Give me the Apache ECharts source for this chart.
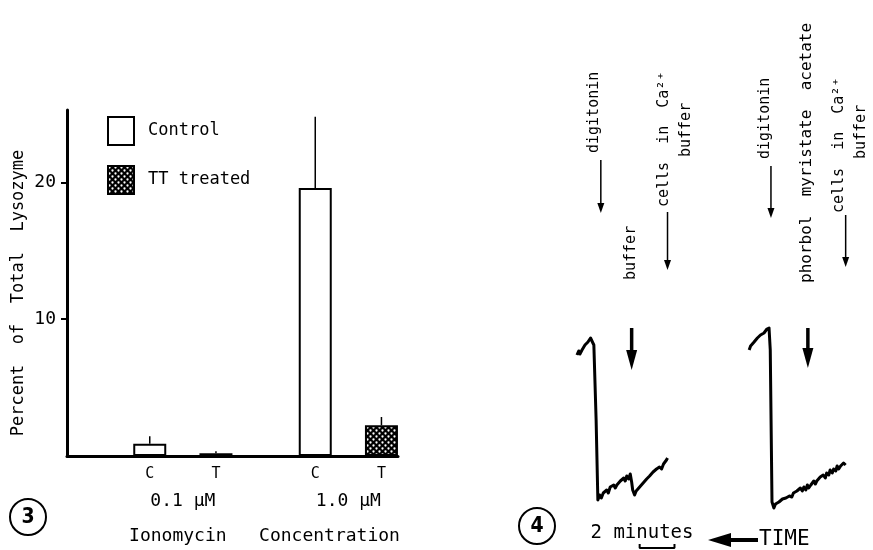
<!DOCTYPE html>
<html>
<head>
<meta charset="utf-8">
<script src="https://cdn.jsdelivr.net/npm/echarts@6/dist/echarts.min.js"></script>
<style>
html, body { margin: 0; padding: 0; background: #fff; }
#chart { width: 873px; height: 550px; }
</style>
</head>
<body>
<div id="chart"></div>
<script>
var mono = 'DejaVu Sans Mono';

// figure 3 : lysozyme release
var ctrlPos = [1.25, 3.75];
var ttPos = [2.25, 4.75];
var ctrlMean = [0.9, 19.6];
var ctrlErr = [0.55, 5.2];
var ttMean = [0.2, 2.25];
var ttErr = [0.15, 0.6];
var groupPos = [1.75, 4.25];
var groupLabels = ['0.1 μM', '1.0 μM'];
var yTicks = [10, 20];

// figure 4 : traces (x in minutes, y in arbitrary units)
var trace1 = [
	[0.40, 82.5], [0.50, 84.5], [0.57, 83], [0.69, 85], [0.77, 84], [0.86, 87.5], [0.94, 86.5],
	[1.03, 89], [1.10, 88], [1.18, 91], [1.26, 92], [1.37, 87.5], [1.50, 50], [1.60, 10],
	[1.70, 12.5], [1.80, 11], [1.91, 13.5], [2.00, 12.5], [2.11, 15], [2.20, 13.5], [2.31, 16.5],
	[2.40, 15.5], [2.51, 17.5], [2.60, 16], [2.69, 17.5], [2.80, 17], [2.89, 19.5], [2.97, 18.5],
	[3.09, 21], [3.17, 19.5], [3.26, 22], [3.37, 20.5], [3.46, 23], [3.54, 19], [3.60, 15],
	[3.71, 12.5], [3.80, 14.5], [3.89, 14], [4.00, 16.5], [4.09, 15.5], [4.20, 18.5], [4.29, 18],
	[4.40, 20.5], [4.49, 19.5], [4.57, 22], [4.66, 21], [4.77, 24], [4.86, 23], [4.97, 25.5],
	[5.06, 24.5], [5.14, 26.5], [5.26, 25.5], [5.37, 28], [5.46, 27], [5.54, 30], [5.60, 31]
];
var trace2 = [
	[10.29, 85], [10.37, 87], [10.46, 86.5], [10.57, 89], [10.66, 88.5], [10.76, 91], [10.86, 90.5],
	[10.94, 92.5], [11.03, 92], [11.14, 93.5], [11.23, 93], [11.31, 95.5], [11.43, 96], [11.50, 85],
	[11.60, 9], [11.71, 6], [11.80, 8], [11.89, 7], [12.00, 9], [12.09, 8.5], [12.20, 10.5],
	[12.29, 9.5], [12.40, 11], [12.51, 10], [12.60, 12], [12.74, 11.5], [12.83, 13.5], [12.94, 12.5],
	[13.03, 14.5], [13.14, 13.5], [13.23, 16], [13.34, 14.5], [13.43, 16.5], [13.54, 15], [13.63, 17.5],
	[13.71, 16], [13.83, 17.5], [13.91, 17], [14.00, 19.5], [14.09, 18], [14.17, 19.5], [14.26, 19],
	[14.37, 21.5], [14.46, 20.5], [14.54, 22.5], [14.66, 21], [14.74, 23.5], [14.86, 22.5], [14.94, 25],
	[15.06, 23.5], [15.14, 25.5], [15.26, 24.5], [15.34, 27], [15.43, 25.5], [15.54, 27], [15.63, 26],
	[15.71, 28.5], [15.83, 27.5]
];
var bigArrows = [[3.54, 96, 75], [13.66, 96, 76]];
var thinArrows = [[1.77, 180, 153.5], [5.6, 154, 125], [11.54, 177, 151], [15.83, 152.5, 126.5]];
var noteText = ['digitonin', 'buffer', 'cells  in  Ca²⁺', 'buffer',
	'digitonin', 'phorbol  myristate  acetate', 'cells  in  Ca²⁺', 'buffer'];
var notePos = [[1.37, 183.5], [3.49, 120], [5.43, 156.5], [6.69, 181.5],
	[11.2, 180.5], [13.6, 118.5], [15.43, 153.5], [16.69, 180.5]];
var scaleBar = [[4, -12], [4, -14], [6, -14], [6, -12]];

function dotPattern() {
	var c = document.createElement('canvas');
	c.width = 6;
	c.height = 6;
	var g = c.getContext('2d');
	g.fillStyle = '#000';
	g.fillRect(0, 0, 6, 6);
	g.fillStyle = '#fff';
	[[1.5, 1.5], [4.5, 4.5]].forEach(function(p) {
		g.beginPath();
		g.arc(p[0], p[1], 1.15, 0, Math.PI * 2);
		g.fill();
	});
	return c;
}

function arrowRender(lineWidth, headLen, headHalf) {
	return function(params, api) {
		var top = api.coord([api.value(0), api.value(1)]);
		var bot = api.coord([api.value(0), api.value(2)]);
		return {
			type : 'group',
			children : [ {
				type : 'line',
				shape : { x1 : top[0], y1 : top[1], x2 : bot[0], y2 : bot[1] - headLen + 2 },
				style : { stroke : '#000', lineWidth : lineWidth }
			}, {
				type : 'polygon',
				shape : { points : [ [ bot[0] - headHalf, bot[1] - headLen ], [ bot[0] + headHalf, bot[1] - headLen ], [ bot[0], bot[1] ] ] },
				style : { fill : '#000' }
			} ]
		};
	};
}

function near(list, v) {
	return list.some(function(x) { return Math.abs(x - v) < 0.01; });
}

var chart = echarts.init(document.getElementById('chart'));
var pattern = { image : dotPattern(), repeat : 'repeat' };

var option = {
	animation : false,
	backgroundColor : '#fff',
	textStyle : { fontFamily : mono, color : '#000' },
	legend : {
		data : [ 'Control', 'TT treated' ],
		orient : 'vertical',
		left : 107,
		top : 116,
		padding : 0,
		itemWidth : 26,
		itemHeight : 28,
		itemGap : 19,
		icon : 'rect',
		itemStyle : { borderColor : '#000', borderWidth : 2 },
		textStyle : { fontFamily : mono, fontSize : 17, color : '#000', padding : [ 0, 0, 0, 9 ] }
	},
	grid : [
		{ left : 67, top : 110, width : 331, height : 347 },
		{ left : 570, top : 0, width : 304.5, height : 550 }
	],
	xAxis : [ {
		gridIndex : 0,
		type : 'value',
		min : 0,
		max : 5,
		splitLine : { show : false },
		axisTick : { show : false },
		axisLine : { lineStyle : { color : '#000', width : 3 } },
		axisLabel : {
			customValues : ctrlPos.concat(ttPos),
			formatter : function(v) { return near(ctrlPos, v) ? 'C' : 'T'; },
			fontFamily : mono,
			fontSize : 15,
			color : '#000',
			margin : 11
		},
		name : 'Ionomycin   Concentration',
		nameLocation : 'middle',
		nameGap : 71,
		nameTextStyle : { fontFamily : mono, fontSize : 18, color : '#000', padding : [ 0, 0, 0, 64 ] }
	}, {
		gridIndex : 0,
		type : 'value',
		position : 'bottom',
		min : 0,
		max : 5,
		splitLine : { show : false },
		axisTick : { show : false },
		axisLine : { show : false },
		axisLabel : {
			customValues : groupPos,
			formatter : function(v) { return groupLabels[near([groupPos[0]], v) ? 0 : 1]; },
			fontFamily : mono,
			fontSize : 18,
			color : '#000',
			margin : 36
		}
	}, {
		gridIndex : 1,
		type : 'value',
		min : 0,
		max : 17.4,
		show : false
	} ],
	yAxis : [ {
		gridIndex : 0,
		type : 'value',
		min : 0,
		max : 25.3,
		splitLine : { show : false },
		axisLine : { show : true, lineStyle : { color : '#000', width : 3 } },
		axisTick : { show : true, customValues : yTicks, length : 6, lineStyle : { color : '#000', width : 2 } },
		axisLabel : { customValues : yTicks, fontFamily : mono, fontSize : 18, color : '#000', margin : 11 },
		name : 'Percent  of  Total  Lysozyme',
		nameLocation : 'middle',
		nameGap : 40,
		nameRotate : 90,
		nameTextStyle : { fontFamily : mono, fontSize : 17, color : '#000', padding : [ 0, 20, 0, 0 ] }
	}, {
		gridIndex : 1,
		type : 'value',
		min : -15,
		max : 260,
		show : false
	} ],
	series : [ {
		name : 'Control',
		type : 'bar',
		xAxisIndex : 0,
		yAxisIndex : 0,
		barWidth : 33,
		barGap : '-100%',
		itemStyle : { color : '#fff', borderColor : '#000', borderWidth : 2 },
		data : ctrlPos.map(function(x, i) { return [ x, ctrlMean[i] ]; })
	}, {
		name : 'TT treated',
		type : 'bar',
		xAxisIndex : 0,
		yAxisIndex : 0,
		barWidth : 33,
		barGap : '-100%',
		itemStyle : { color : pattern, borderColor : '#000', borderWidth : 2 },
		data : ttPos.map(function(x, i) { return [ x, ttMean[i] ]; })
	}, {
		name : 'error',
		type : 'custom',
		xAxisIndex : 0,
		yAxisIndex : 0,
		data : ctrlPos.map(function(x, i) { return [ x, ctrlMean[i], ctrlErr[i] ]; })
			.concat(ttPos.map(function(x, i) { return [ x, ttMean[i], ttErr[i] ]; })),
		encode : { x : 0, y : 1 },
		renderItem : function(params, api) {
			var x = api.value(0), y = api.value(1), e = api.value(2);
			var p0 = api.coord([ x, y ]);
			var p1 = api.coord([ x, y + e ]);
			return {
				type : 'line',
				shape : { x1 : p0[0], y1 : p0[1], x2 : p1[0], y2 : p1[1] },
				style : { stroke : '#000', lineWidth : 1.5 }
			};
		},
		z : 3
	}, {
		name : 'trace1',
		type : 'line',
		xAxisIndex : 2,
		yAxisIndex : 1,
		symbol : 'none',
		lineStyle : { color : '#000', width : 3, join : 'round' },
		data : trace1
	}, {
		name : 'trace2',
		type : 'line',
		xAxisIndex : 2,
		yAxisIndex : 1,
		symbol : 'none',
		lineStyle : { color : '#000', width : 3, join : 'round' },
		data : trace2
	}, {
		name : 'bigArrow',
		type : 'custom',
		xAxisIndex : 2,
		yAxisIndex : 1,
		data : bigArrows,
		renderItem : arrowRender(3.5, 20, 5.5)
	}, {
		name : 'thinArrow',
		type : 'custom',
		xAxisIndex : 2,
		yAxisIndex : 1,
		data : thinArrows,
		renderItem : arrowRender(1.5, 10, 3.5)
	}, {
		name : 'notes',
		type : 'custom',
		xAxisIndex : 2,
		yAxisIndex : 1,
		data : notePos,
		renderItem : function(params, api) {
			var p = api.coord([ api.value(0), api.value(1) ]);
			return {
				type : 'text',
				x : p[0],
				y : p[1],
				rotation : Math.PI / 2,
				style : {
					text : noteText[params.dataIndex],
					fontFamily : mono,
					fontSize : params.dataIndex === 5 ? 16 : 15,
					fill : '#000',
					align : 'left',
					verticalAlign : 'middle'
				}
			};
		}
	}, {
		name : 'scale',
		type : 'line',
		xAxisIndex : 2,
		yAxisIndex : 1,
		symbol : 'none',
		lineStyle : { color : '#000', width : 2 },
		data : scaleBar
	} ],
	graphic : [ {
		type : 'group',
		children : [ {
			type : 'circle',
			shape : { cx : 28, cy : 517, r : 18 },
			style : { fill : 'none', stroke : '#000', lineWidth : 2 }
		}, {
			type : 'text',
			x : 28,
			y : 518,
			style : { text : '3', fontFamily : 'DejaVu Sans Condensed', fontWeight : 'bold', fontSize : 21, fill : '#000', align : 'center', verticalAlign : 'middle' }
		}, {
			type : 'circle',
			shape : { cx : 537, cy : 526, r : 18 },
			style : { fill : 'none', stroke : '#000', lineWidth : 2 }
		}, {
			type : 'text',
			x : 537,
			y : 527,
			style : { text : '4', fontFamily : 'DejaVu Sans Condensed', fontWeight : 'bold', fontSize : 21, fill : '#000', align : 'center', verticalAlign : 'middle' }
		}, {
			type : 'text',
			x : 642,
			y : 533,
			style : { text : '2 minutes', fontFamily : mono, fontSize : 19, fill : '#000', align : 'center', verticalAlign : 'middle' }
		}, {
			type : 'line',
			shape : { x1 : 726, y1 : 540, x2 : 758, y2 : 540 },
			style : { stroke : '#000', lineWidth : 4 }
		}, {
			type : 'polygon',
			shape : { points : [ [ 708, 540 ], [ 731, 533 ], [ 731, 547 ] ] },
			style : { fill : '#000' }
		}, {
			type : 'text',
			x : 759,
			y : 540,
			style : { text : 'TIME', fontFamily : mono, fontSize : 21, fill : '#000', align : 'left', verticalAlign : 'middle' }
		} ]
	} ]
};
chart.setOption(option);
</script>
</body>
</html>
